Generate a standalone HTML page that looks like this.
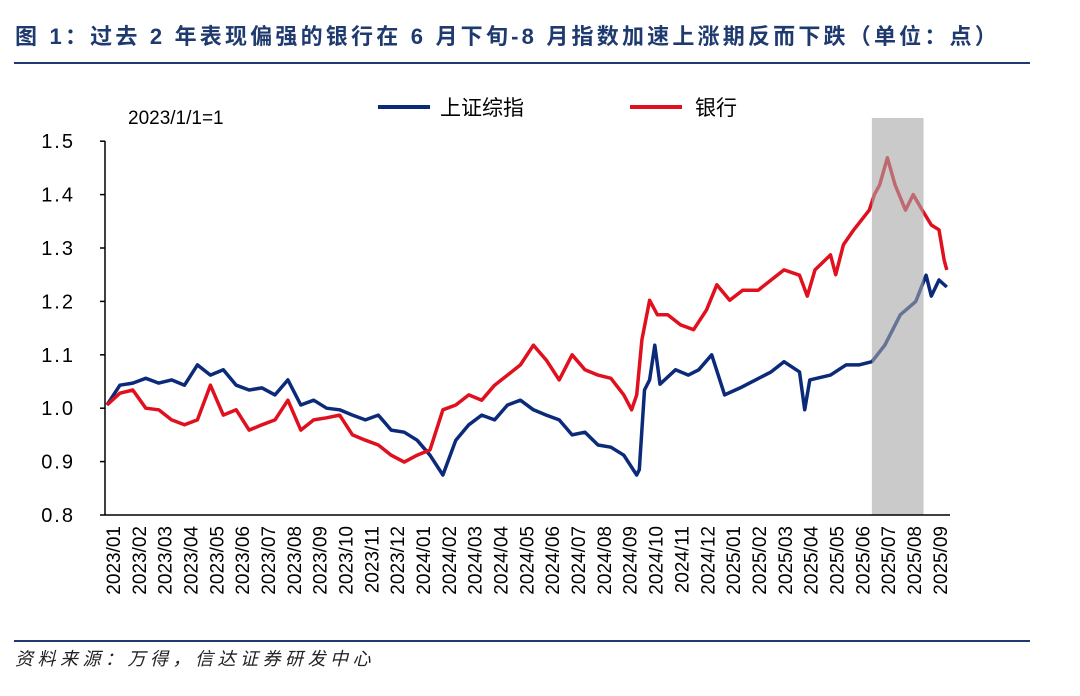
<!DOCTYPE html>
<html><head><meta charset="utf-8"><style>
body{margin:0;background:#fff;width:1080px;height:691px;overflow:hidden;font-family:"Liberation Sans","Noto Sans CJK SC",sans-serif}
</style></head><body>
<svg width="1080" height="691" viewBox="0 0 1080 691" xmlns="http://www.w3.org/2000/svg">
<text x="15" y="44" font-size="22" font-weight="bold" letter-spacing="3.2" fill="#1f3a6e" font-family="Liberation Sans, Noto Sans CJK SC, sans-serif">图 1：过去 2 年表现偏强的银行在 6 月下旬-8 月指数加速上涨期反而下跌（单位：点）</text>
<line x1="14" y1="63" x2="1030" y2="63" stroke="#1f3a6e" stroke-width="2"/>
<line x1="14" y1="641" x2="1030" y2="641" stroke="#1f3a6e" stroke-width="2"/>
<text x="15" y="665" font-size="18" font-style="italic" letter-spacing="4.5" fill="#222" font-family="Liberation Sans, Noto Sans CJK SC, sans-serif">资料来源：万得，信达证券研发中心</text>
<text x="128" y="124" font-size="19" fill="#000">2023/1/1=1</text>
<g>
<line x1="378" y1="107" x2="430" y2="107" stroke="#0b2a7a" stroke-width="4"/>
<text x="440" y="115" font-size="21">上证综指</text>
<line x1="630" y1="107" x2="682" y2="107" stroke="#e0101e" stroke-width="4"/>
<text x="695" y="115" font-size="21">银行</text>
</g>
<g id="plot"></g>
</svg>
<script>
const yTicks=[0.8,0.9,1.0,1.1,1.2,1.3,1.4,1.5];
const monthLabels=["2023/01","2023/02","2023/03","2023/04","2023/05","2023/06","2023/07","2023/08","2023/09","2023/10","2023/11","2023/12","2024/01","2024/02","2024/03","2024/04","2024/05","2024/06","2024/07","2024/08","2024/09","2024/10","2024/11","2024/12","2025/01","2025/02","2025/03","2025/04","2025/05","2025/06","2025/07","2025/08","2025/09"];
const shadeRange=[29.6,31.6];
const shT=[0,0.5,1,1.5,2,2.5,3,3.5,4,4.5,5,5.5,6,6.5,7,7.5,8,8.5,9,9.5,10,10.5,11,11.5,12,12.5,13,13.5,14,14.5,15,15.5,16,16.5,17,17.5,18,18.5,19,19.5,20,20.5,20.6,20.8,21.0,21.2,21.4,22.0,22.5,22.9,23.4,23.9,24.5,25.1,25.7,26.2,26.8,27.0,27.2,28.0,28.6,29.1,29.6,30.1,30.7,31.3,31.7,31.9,32.2,32.5];
const shV=[1.006,1.043,1.047,1.056,1.047,1.053,1.043,1.081,1.062,1.072,1.043,1.034,1.038,1.025,1.053,1.006,1.015,1.0,0.997,0.987,0.978,0.987,0.959,0.955,0.94,0.912,0.875,0.94,0.969,0.987,0.978,1.006,1.015,0.997,0.987,0.978,0.95,0.955,0.931,0.927,0.912,0.875,0.885,1.034,1.053,1.118,1.045,1.072,1.062,1.072,1.10,1.025,1.038,1.053,1.068,1.087,1.068,0.997,1.053,1.062,1.081,1.081,1.087,1.118,1.175,1.20,1.249,1.21,1.24,1.227];
const bkT=[0,0.5,1,1.5,2,2.5,3,3.5,4,4.5,5,5.5,6,6.5,7,7.5,8,8.5,9,9.5,10,10.5,11,11.5,12,12.5,13,13.5,14,14.5,15,15.5,16,16.5,17,17.5,18,18.5,19,19.5,20,20.3,20.5,20.7,21.0,21.3,21.7,22.2,22.7,23.2,23.6,24.1,24.6,25.2,25.7,26.2,26.8,27.1,27.4,28.0,28.2,28.5,28.9,29.5,29.7,29.9,30.2,30.5,30.9,31.2,31.5,31.9,32.2,32.4,32.5];
const bkV=[1.006,1.028,1.034,1.0,0.997,0.978,0.969,0.978,1.043,0.987,0.997,0.959,0.969,0.978,1.015,0.959,0.978,0.982,0.987,0.95,0.94,0.931,0.912,0.899,0.912,0.922,0.997,1.006,1.025,1.015,1.043,1.062,1.081,1.118,1.09,1.053,1.10,1.072,1.062,1.056,1.025,0.997,1.025,1.128,1.202,1.175,1.175,1.156,1.147,1.184,1.231,1.202,1.221,1.221,1.24,1.259,1.249,1.21,1.259,1.287,1.25,1.306,1.334,1.371,1.40,1.418,1.469,1.418,1.371,1.40,1.375,1.343,1.334,1.277,1.259];
const NS="http://www.w3.org/2000/svg";
const X0=107,MW=25.84,Y0=515,YS=534;
function xs(t){return X0+t*MW;}
function ys(v){return Y0-(v-0.8)*YS;}
const g=document.getElementById('plot');
function mk(tag,attrs){const e=document.createElementNS(NS,tag);for(const k in attrs)e.setAttribute(k,attrs[k]);g.appendChild(e);return e;}
function line(T,V,color,name){
  let d=T.map((t,i)=>(i?'L':'M')+xs(t).toFixed(1)+','+ys(V[i]).toFixed(1)).join(' ');
  const p=mk('path',{d:d,fill:'none',stroke:color,'stroke-width':3.5,'stroke-linejoin':'round'});
  
  
}
line(shT,shV,'#0b2a7a','series-shanghai-composite');
line(bkT,bkV,'#e0101e','series-bank');
const sh=mk('rect',{x:xs(shadeRange[0]),y:118,width:xs(shadeRange[1])-xs(shadeRange[0]),height:Y0-118,fill:'#a6a6a6','fill-opacity':0.6});


const ya=mk('line',{x1:105,y1:141,x2:105,y2:Y0,stroke:'#000','stroke-width':1.5});


const xa=mk('line',{x1:105,y1:Y0,x2:950,y2:Y0,stroke:'#000','stroke-width':1.5});


yTicks.forEach(v=>{
  const tk=mk('line',{x1:100,y1:ys(v),x2:105,y2:ys(v),stroke:'#000','stroke-width':1.5});
  
  
  const tx=mk('text',{x:75,y:ys(v)+7,'font-size':20,'letter-spacing':2,'text-anchor':'end'});
  tx.textContent=v.toFixed(1);
  
  
});
monthLabels.forEach((m,i)=>{
  const x=xs(i+0.23);
  const tx=mk('text',{x:0,y:0,'font-size':19,'text-anchor':'end',transform:`translate(${x+7},526) rotate(-90)`});
  tx.textContent=m;
  
  
});
</script>
</body></html>
